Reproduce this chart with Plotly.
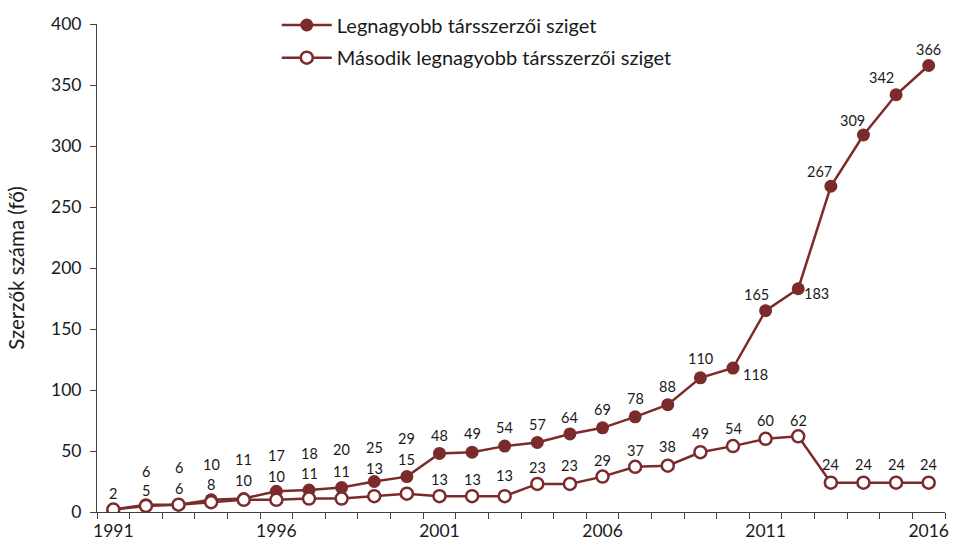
import plotly.graph_objects as go

years = list(range(1991, 2017))
largest = [2, 6, 6, 10, 11, 17, 18, 20, 25, 29, 48, 49, 54, 57, 64, 69, 78, 88,
           110, 118, 165, 183, 267, 309, 342, 366]
second = [2, 5, 6, 8, 10, 10, 11, 11, 13, 15, 13, 13, 13, 23, 23, 29, 37, 38,
          49, 54, 60, 62, 24, 24, 24, 24]
largest_labels = [""] + [str(v) for v in largest[1:]]
second_labels = [str(v) for v in second]

name1 = "Legnagyobb társszerzői sziget"
name2 = "Második legnagyobb társszerzői sziget"
y_title = "Szerzők száma (fő)"
x_tickvals = [1991, 1996, 2001, 2006, 2011, 2016]

# label placement offsets (style, pixels)
l_dy = [0, 33, 37, 35, 39, 36, 37, 38, 34, 38, 18, 19, 19, 18, 16, 18, 18, 18,
        19, -6, 16, -5, 15, 15, 17, 16]
l_dx = [0] * 19 + [22, -9, 18, -11, -11, -15, 0]
s_dy = [16, 15, 16, 18, 19, 23, 25, 27, 28, 34, 17, 17, 21, 16, 18, 16, 16, 19,
        19, 18, 18, 16, 18, 18, 18, 18]

RED = "#7B2B2B"
AX = "#404040"
FONT = "Lato"
TXT = "#1a1a1a"

fig = go.Figure()
fig.add_trace(go.Scatter(
    x=years, y=largest, name=name1, mode="lines+markers",
    line=dict(color=RED, width=2.5),
    marker=dict(color=RED, size=13, line=dict(color=RED, width=0)),
    legend="legend",
))
fig.add_trace(go.Scatter(
    x=years, y=second, name=name2, mode="lines+markers",
    line=dict(color=RED, width=2.5),
    marker=dict(color="white", size=12, line=dict(color=RED, width=2.5)),
    legend="legend2",
))

annos = []
for x, y, t, dy, dx in zip(years, largest, largest_labels, l_dy, l_dx):
    if t:
        annos.append(dict(x=x, y=y, text=t, showarrow=False, xref="x", yref="y",
                          yshift=dy, xshift=dx, yanchor="middle", xanchor="center",
                          font=dict(family=FONT, size=14.5, color=TXT)))
for x, y, t, dy in zip(years, second, second_labels, s_dy):
    annos.append(dict(x=x, y=y, text=t, showarrow=False, xref="x", yref="y",
                      yshift=dy, yanchor="middle", xanchor="center",
                      font=dict(family=FONT, size=14.5, color=TXT)))

fig.update_layout(
    width=954, height=546,
    margin=dict(l=97, r=5, t=21, b=33),
    paper_bgcolor="white", plot_bgcolor="white",
    font=dict(family=FONT, size=17, color=TXT),
    annotations=annos,
    showlegend=True,
    legend=dict(x=0.212, y=0.998, xanchor="left", yanchor="middle",
                font=dict(family=FONT, size=20, color=TXT),
                bgcolor="rgba(0,0,0,0)", itemwidth=50),
    legend2=dict(x=0.212, y=0.931, xanchor="left", yanchor="middle",
                 font=dict(family=FONT, size=20, color=TXT),
                 bgcolor="rgba(0,0,0,0)", itemwidth=50),
    xaxis=dict(
        range=[1990.5, 2016.5], tickmode="array", tickvals=x_tickvals,
        ticktext=[str(v) for v in x_tickvals],
        ticks="outside", ticklen=3, tickcolor="rgba(0,0,0,0)",
        showline=True, linecolor=AX, linewidth=1, showgrid=False, zeroline=False,
        tickfont=dict(family=FONT, size=17.5, color=TXT),
        minor=dict(tickmode="linear", tick0=1990.5, dtick=1, ticks="outside",
                   ticklen=6, tickcolor=AX, tickwidth=1, showgrid=False),
    ),
    yaxis=dict(
        range=[0, 400], tickmode="linear", tick0=0, dtick=50,
        ticks="outside", ticklen=6, tickcolor=AX, ticklabelstandoff=5,
        showline=True, linecolor=AX, linewidth=1, showgrid=False, zeroline=False,
        tickfont=dict(family=FONT, size=17.5, color=TXT),
        title=dict(text=y_title, font=dict(family=FONT, size=20.5, color=TXT), standoff=20),
    ),
)

fig.write_html("out.html", config={"displayModeBar": False})
with open("out.html", encoding="utf-8") as f:
    html = f.read()
html = html.replace("<body>", '<body style="margin:0;padding:0;overflow:hidden">', 1)
with open("out.html", "w", encoding="utf-8") as f:
    f.write(html)
